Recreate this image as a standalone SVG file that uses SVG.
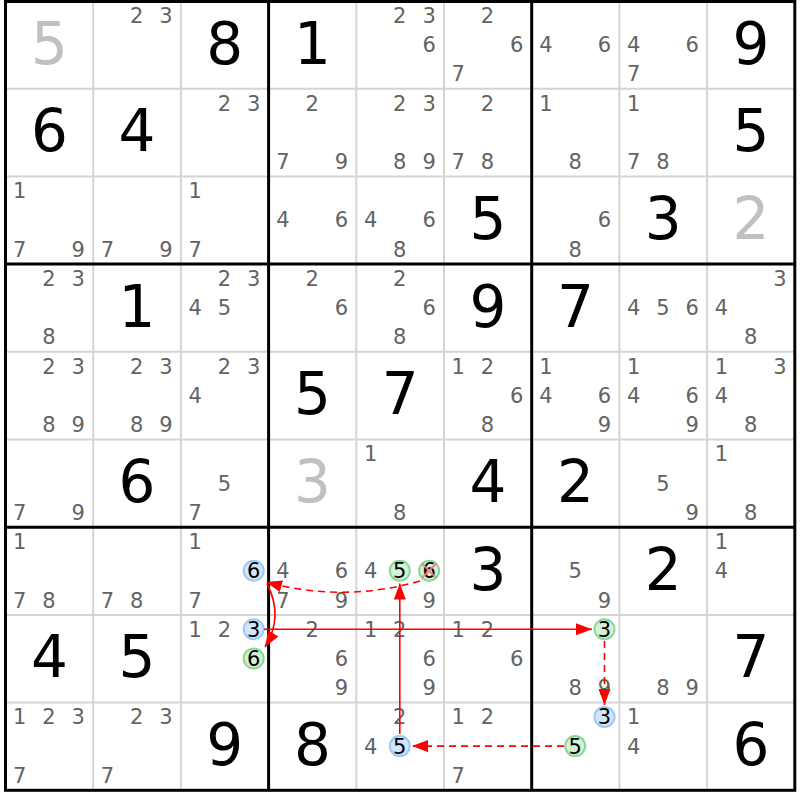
<svg xmlns="http://www.w3.org/2000/svg" width="800" height="800" viewBox="0 0 800 800">
<style>
text{font-family:"DejaVu Sans","Verdana",sans-serif;text-anchor:middle}
.g{font-size:58px;fill:#000}
.gg{font-size:58px;fill:#c0c0c0}
.c{font-size:21px;fill:#636363}
.h{font-size:21px;fill:#000}
.thin{stroke:#d4d4d4;stroke-width:2;fill:none}
.thick{stroke:#000;stroke-width:3;fill:none}
.cb{fill:#d2e6fb;stroke:#9cc9f5;stroke-width:2}
.cg{fill:#d4f1d6;stroke:#88d995;stroke-width:2}
.ar{stroke:#ff0000;stroke-width:1.6;fill:none}
.da{stroke-dasharray:7,5}
.x{stroke:#f08080;stroke-width:2.2;opacity:0.85}
</style>
<defs>
<marker id="ah" markerUnits="userSpaceOnUse" markerWidth="17" markerHeight="12" refX="16" refY="6" orient="auto">
<path d="M0,0 L16,6 L0,12 z" fill="#ff0000"/>
</marker>
</defs>
<rect x="0" y="0" width="800" height="800" fill="#fff"/>
<g id="grid">
<path class="thin" d="M93.2,1V790.3M180.9,1V790.3M356.3,1V790.3M444,1V790.3M619.4,1V790.3M707.1,1V790.3M5.5,88.7H794.8M5.5,176.4H794.8M5.5,351.8H794.8M5.5,439.5H794.8M5.5,615H794.8M5.5,702.6H794.8"/>
<path class="thick" d="M268.6,1V790.3M531.7,1V790.3M5.5,264.1H794.8M5.5,527.2H794.8"/>
<rect class="thick" x="5.5" y="1.5" width="789.3" height="788.8"/>
</g>
<!-- row 0 -->
<g id="r0c0" transform="translate(5.5,1)"><text class="gg" x="43.85" y="62.5">5</text></g>
<g id="r0c1" transform="translate(93.2,1)"><text class="c" x="43.5" y="21.9">2</text><text class="c" x="72.8" y="21.9">3</text></g>
<g id="r0c2" transform="translate(180.9,1)"><text class="g" x="43.85" y="62.5">8</text></g>
<g id="r0c3" transform="translate(268.6,1)"><text class="g" x="43.85" y="62.5">1</text></g>
<g id="r0c4" transform="translate(356.3,1)"><text class="c" x="43.5" y="21.9">2</text><text class="c" x="72.8" y="21.9">3</text><text class="c" x="72.8" y="51.1">6</text></g>
<g id="r0c5" transform="translate(444,1)"><text class="c" x="43.5" y="21.9">2</text><text class="c" x="72.8" y="51.1">6</text><text class="c" x="14.3" y="80.4">7</text></g>
<g id="r0c6" transform="translate(531.7,1)"><text class="c" x="14.3" y="51.1">4</text><text class="c" x="72.8" y="51.1">6</text></g>
<g id="r0c7" transform="translate(619.4,1)"><text class="c" x="14.3" y="51.1">4</text><text class="c" x="72.8" y="51.1">6</text><text class="c" x="14.3" y="80.4">7</text></g>
<g id="r0c8" transform="translate(707.1,1)"><text class="g" x="43.85" y="62.5">9</text></g>
<!-- row 1 -->
<g id="r1c0" transform="translate(5.5,88.7)"><text class="g" x="43.85" y="62.5">6</text></g>
<g id="r1c1" transform="translate(93.2,88.7)"><text class="g" x="43.85" y="62.5">4</text></g>
<g id="r1c2" transform="translate(180.9,88.7)"><text class="c" x="43.5" y="21.9">2</text><text class="c" x="72.8" y="21.9">3</text></g>
<g id="r1c3" transform="translate(268.6,88.7)"><text class="c" x="43.5" y="21.9">2</text><text class="c" x="14.3" y="80.4">7</text><text class="c" x="72.8" y="80.4">9</text></g>
<g id="r1c4" transform="translate(356.3,88.7)"><text class="c" x="43.5" y="21.9">2</text><text class="c" x="72.8" y="21.9">3</text><text class="c" x="43.5" y="80.4">8</text><text class="c" x="72.8" y="80.4">9</text></g>
<g id="r1c5" transform="translate(444,88.7)"><text class="c" x="43.5" y="21.9">2</text><text class="c" x="14.3" y="80.4">7</text><text class="c" x="43.5" y="80.4">8</text></g>
<g id="r1c6" transform="translate(531.7,88.7)"><text class="c" x="14.3" y="21.9">1</text><text class="c" x="43.5" y="80.4">8</text></g>
<g id="r1c7" transform="translate(619.4,88.7)"><text class="c" x="14.3" y="21.9">1</text><text class="c" x="14.3" y="80.4">7</text><text class="c" x="43.5" y="80.4">8</text></g>
<g id="r1c8" transform="translate(707.1,88.7)"><text class="g" x="43.85" y="62.5">5</text></g>
<!-- row 2 -->
<g id="r2c0" transform="translate(5.5,176.4)"><text class="c" x="14.3" y="21.9">1</text><text class="c" x="14.3" y="80.4">7</text><text class="c" x="72.8" y="80.4">9</text></g>
<g id="r2c1" transform="translate(93.2,176.4)"><text class="c" x="14.3" y="80.4">7</text><text class="c" x="72.8" y="80.4">9</text></g>
<g id="r2c2" transform="translate(180.9,176.4)"><text class="c" x="14.3" y="21.9">1</text><text class="c" x="14.3" y="80.4">7</text></g>
<g id="r2c3" transform="translate(268.6,176.4)"><text class="c" x="14.3" y="51.1">4</text><text class="c" x="72.8" y="51.1">6</text></g>
<g id="r2c4" transform="translate(356.3,176.4)"><text class="c" x="14.3" y="51.1">4</text><text class="c" x="72.8" y="51.1">6</text><text class="c" x="43.5" y="80.4">8</text></g>
<g id="r2c5" transform="translate(444,176.4)"><text class="g" x="43.85" y="62.5">5</text></g>
<g id="r2c6" transform="translate(531.7,176.4)"><text class="c" x="72.8" y="51.1">6</text><text class="c" x="43.5" y="80.4">8</text></g>
<g id="r2c7" transform="translate(619.4,176.4)"><text class="g" x="43.85" y="62.5">3</text></g>
<g id="r2c8" transform="translate(707.1,176.4)"><text class="gg" x="43.85" y="62.5">2</text></g>
<!-- row 3 -->
<g id="r3c0" transform="translate(5.5,264.1)"><text class="c" x="43.5" y="21.9">2</text><text class="c" x="72.8" y="21.9">3</text><text class="c" x="43.5" y="80.4">8</text></g>
<g id="r3c1" transform="translate(93.2,264.1)"><text class="g" x="43.85" y="62.5">1</text></g>
<g id="r3c2" transform="translate(180.9,264.1)"><text class="c" x="43.5" y="21.9">2</text><text class="c" x="72.8" y="21.9">3</text><text class="c" x="14.3" y="51.1">4</text><text class="c" x="43.5" y="51.1">5</text></g>
<g id="r3c3" transform="translate(268.6,264.1)"><text class="c" x="43.5" y="21.9">2</text><text class="c" x="72.8" y="51.1">6</text></g>
<g id="r3c4" transform="translate(356.3,264.1)"><text class="c" x="43.5" y="21.9">2</text><text class="c" x="72.8" y="51.1">6</text><text class="c" x="43.5" y="80.4">8</text></g>
<g id="r3c5" transform="translate(444,264.1)"><text class="g" x="43.85" y="62.5">9</text></g>
<g id="r3c6" transform="translate(531.7,264.1)"><text class="g" x="43.85" y="62.5">7</text></g>
<g id="r3c7" transform="translate(619.4,264.1)"><text class="c" x="14.3" y="51.1">4</text><text class="c" x="43.5" y="51.1">5</text><text class="c" x="72.8" y="51.1">6</text></g>
<g id="r3c8" transform="translate(707.1,264.1)"><text class="c" x="72.8" y="21.9">3</text><text class="c" x="14.3" y="51.1">4</text><text class="c" x="43.5" y="80.4">8</text></g>
<!-- row 4 -->
<g id="r4c0" transform="translate(5.5,351.8)"><text class="c" x="43.5" y="21.9">2</text><text class="c" x="72.8" y="21.9">3</text><text class="c" x="43.5" y="80.4">8</text><text class="c" x="72.8" y="80.4">9</text></g>
<g id="r4c1" transform="translate(93.2,351.8)"><text class="c" x="43.5" y="21.9">2</text><text class="c" x="72.8" y="21.9">3</text><text class="c" x="43.5" y="80.4">8</text><text class="c" x="72.8" y="80.4">9</text></g>
<g id="r4c2" transform="translate(180.9,351.8)"><text class="c" x="43.5" y="21.9">2</text><text class="c" x="72.8" y="21.9">3</text><text class="c" x="14.3" y="51.1">4</text></g>
<g id="r4c3" transform="translate(268.6,351.8)"><text class="g" x="43.85" y="62.5">5</text></g>
<g id="r4c4" transform="translate(356.3,351.8)"><text class="g" x="43.85" y="62.5">7</text></g>
<g id="r4c5" transform="translate(444,351.8)"><text class="c" x="14.3" y="21.9">1</text><text class="c" x="43.5" y="21.9">2</text><text class="c" x="72.8" y="51.1">6</text><text class="c" x="43.5" y="80.4">8</text></g>
<g id="r4c6" transform="translate(531.7,351.8)"><text class="c" x="14.3" y="21.9">1</text><text class="c" x="14.3" y="51.1">4</text><text class="c" x="72.8" y="51.1">6</text><text class="c" x="72.8" y="80.4">9</text></g>
<g id="r4c7" transform="translate(619.4,351.8)"><text class="c" x="14.3" y="21.9">1</text><text class="c" x="14.3" y="51.1">4</text><text class="c" x="72.8" y="51.1">6</text><text class="c" x="72.8" y="80.4">9</text></g>
<g id="r4c8" transform="translate(707.1,351.8)"><text class="c" x="14.3" y="21.9">1</text><text class="c" x="72.8" y="21.9">3</text><text class="c" x="14.3" y="51.1">4</text><text class="c" x="43.5" y="80.4">8</text></g>
<!-- row 5 -->
<g id="r5c0" transform="translate(5.5,439.5)"><text class="c" x="14.3" y="80.4">7</text><text class="c" x="72.8" y="80.4">9</text></g>
<g id="r5c1" transform="translate(93.2,439.5)"><text class="g" x="43.85" y="62.5">6</text></g>
<g id="r5c2" transform="translate(180.9,439.5)"><text class="c" x="43.5" y="51.1">5</text><text class="c" x="14.3" y="80.4">7</text></g>
<g id="r5c3" transform="translate(268.6,439.5)"><text class="gg" x="43.85" y="62.5">3</text></g>
<g id="r5c4" transform="translate(356.3,439.5)"><text class="c" x="14.3" y="21.9">1</text><text class="c" x="43.5" y="80.4">8</text></g>
<g id="r5c5" transform="translate(444,439.5)"><text class="g" x="43.85" y="62.5">4</text></g>
<g id="r5c6" transform="translate(531.7,439.5)"><text class="g" x="43.85" y="62.5">2</text></g>
<g id="r5c7" transform="translate(619.4,439.5)"><text class="c" x="43.5" y="51.1">5</text><text class="c" x="72.8" y="80.4">9</text></g>
<g id="r5c8" transform="translate(707.1,439.5)"><text class="c" x="14.3" y="21.9">1</text><text class="c" x="43.5" y="80.4">8</text></g>
<!-- row 6 -->
<g id="r6c0" transform="translate(5.5,527.2)"><text class="c" x="14.3" y="21.9">1</text><text class="c" x="14.3" y="80.4">7</text><text class="c" x="43.5" y="80.4">8</text></g>
<g id="r6c1" transform="translate(93.2,527.2)"><text class="c" x="14.3" y="80.4">7</text><text class="c" x="43.5" y="80.4">8</text></g>
<g id="r6c2" transform="translate(180.9,527.2)"><text class="c" x="14.3" y="21.9">1</text><circle class="cb" cx="72.8" cy="43.5" r="10"/><text class="h" x="72.8" y="51.1">6</text><text class="c" x="14.3" y="80.4">7</text></g>
<g id="r6c3" transform="translate(268.6,527.2)"><text class="c" x="14.3" y="51.1">4</text><text class="c" x="72.8" y="51.1">6</text><text class="c" x="14.3" y="80.4">7</text><text class="c" x="72.8" y="80.4">9</text></g>
<g id="r6c4" transform="translate(356.3,527.2)"><text class="c" x="14.3" y="51.1">4</text><circle class="cg" cx="43.5" cy="43.5" r="10"/><text class="h" x="43.5" y="51.1">5</text><circle class="cg" cx="72.8" cy="43.5" r="10"/><text class="h" x="72.8" y="51.1">6</text><path class="x" d="M65.8,36.5L79.8,50.5M79.8,36.5L65.8,50.5"/><text class="c" x="72.8" y="80.4">9</text></g>
<g id="r6c5" transform="translate(444,527.2)"><text class="g" x="43.85" y="62.5">3</text></g>
<g id="r6c6" transform="translate(531.7,527.2)"><text class="c" x="43.5" y="51.1">5</text><text class="c" x="72.8" y="80.4">9</text></g>
<g id="r6c7" transform="translate(619.4,527.2)"><text class="g" x="43.85" y="62.5">2</text></g>
<g id="r6c8" transform="translate(707.1,527.2)"><text class="c" x="14.3" y="21.9">1</text><text class="c" x="14.3" y="51.1">4</text></g>
<!-- row 7 -->
<g id="r7c0" transform="translate(5.5,614.9)"><text class="g" x="43.85" y="62.5">4</text></g>
<g id="r7c1" transform="translate(93.2,614.9)"><text class="g" x="43.85" y="62.5">5</text></g>
<g id="r7c2" transform="translate(180.9,614.9)"><text class="c" x="14.3" y="21.9">1</text><text class="c" x="43.5" y="21.9">2</text><circle class="cb" cx="72.8" cy="14.3" r="10"/><text class="h" x="72.8" y="21.9">3</text><circle class="cg" cx="72.8" cy="43.5" r="10"/><text class="h" x="72.8" y="51.1">6</text></g>
<g id="r7c3" transform="translate(268.6,614.9)"><text class="c" x="43.5" y="21.9">2</text><text class="c" x="72.8" y="51.1">6</text><text class="c" x="72.8" y="80.4">9</text></g>
<g id="r7c4" transform="translate(356.3,614.9)"><text class="c" x="14.3" y="21.9">1</text><text class="c" x="43.5" y="21.9">2</text><text class="c" x="72.8" y="51.1">6</text><text class="c" x="72.8" y="80.4">9</text></g>
<g id="r7c5" transform="translate(444,614.9)"><text class="c" x="14.3" y="21.9">1</text><text class="c" x="43.5" y="21.9">2</text><text class="c" x="72.8" y="51.1">6</text></g>
<g id="r7c6" transform="translate(531.7,614.9)"><circle class="cg" cx="72.8" cy="14.3" r="10"/><text class="h" x="72.8" y="21.9">3</text><text class="c" x="43.5" y="80.4">8</text><text class="c" x="72.8" y="80.4">9</text></g>
<g id="r7c7" transform="translate(619.4,614.9)"><text class="c" x="43.5" y="80.4">8</text><text class="c" x="72.8" y="80.4">9</text></g>
<g id="r7c8" transform="translate(707.1,614.9)"><text class="g" x="43.85" y="62.5">7</text></g>
<!-- row 8 -->
<g id="r8c0" transform="translate(5.5,702.6)"><text class="c" x="14.3" y="21.9">1</text><text class="c" x="43.5" y="21.9">2</text><text class="c" x="72.8" y="21.9">3</text><text class="c" x="14.3" y="80.4">7</text></g>
<g id="r8c1" transform="translate(93.2,702.6)"><text class="c" x="43.5" y="21.9">2</text><text class="c" x="72.8" y="21.9">3</text><text class="c" x="14.3" y="80.4">7</text></g>
<g id="r8c2" transform="translate(180.9,702.6)"><text class="g" x="43.85" y="62.5">9</text></g>
<g id="r8c3" transform="translate(268.6,702.6)"><text class="g" x="43.85" y="62.5">8</text></g>
<g id="r8c4" transform="translate(356.3,702.6)"><text class="c" x="43.5" y="21.9">2</text><text class="c" x="14.3" y="51.1">4</text><circle class="cb" cx="43.5" cy="43.5" r="10"/><text class="h" x="43.5" y="51.1">5</text></g>
<g id="r8c5" transform="translate(444,702.6)"><text class="c" x="14.3" y="21.9">1</text><text class="c" x="43.5" y="21.9">2</text><text class="c" x="14.3" y="80.4">7</text></g>
<g id="r8c6" transform="translate(531.7,702.6)"><circle class="cb" cx="72.8" cy="14.3" r="10"/><text class="h" x="72.8" y="21.9">3</text><circle class="cg" cx="43.5" cy="43.5" r="10"/><text class="h" x="43.5" y="51.1">5</text></g>
<g id="r8c7" transform="translate(619.4,702.6)"><text class="c" x="14.3" y="21.9">1</text><text class="c" x="14.3" y="51.1">4</text></g>
<g id="r8c8" transform="translate(707.1,702.6)"><text class="g" x="43.85" y="62.5">6</text></g>
<g id="connectors">
<path class="ar da" d="M420,581 Q343,603 266,582" marker-end="url(#ah)"/>
<path class="ar" d="M267,584 Q284,616 265,647" marker-end="url(#ah)"/>
<path class="ar" d="M264,629.2 H592" marker-end="url(#ah)"/>
<path class="ar da" d="M604.5,641 V705" marker-end="url(#ah)"/>
<path class="ar da" d="M564,746.1 H412" marker-end="url(#ah)"/>
<path class="ar" d="M399.8,734 V583.5" marker-end="url(#ah)"/>
</g>
</svg>
